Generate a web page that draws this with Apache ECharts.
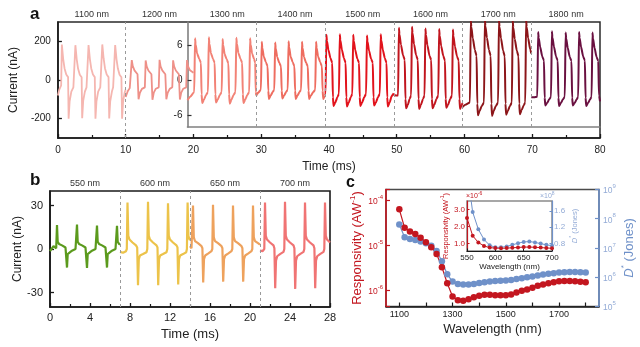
<!DOCTYPE html>
<html>
<head>
<meta charset="utf-8">
<script src="https://cdn.jsdelivr.net/npm/echarts@6.0.0/dist/echarts.min.js"></script>
<style>
  html, body { margin: 0; padding: 0; background: #fff; }
  #chart { width: 640px; height: 347px; }
</style>
</head>
<body>
<div id="chart"></div>
<script>
// ---------------- Panel a: photocurrent vs time, 1100–1800 nm ----------------
const wavelengthsA = ['1100 nm', '1200 nm', '1300 nm', '1400 nm', '1500 nm', '1600 nm', '1700 nm', '1800 nm'];
const boundsA = [0, 10, 20, 30, 40, 50, 60, 70, 80];
const colorsA = ['#f5b6b0', '#ee9088', '#f28276', '#ee6d60', '#e2131c', '#c1151e', '#8c1519', '#6a1040'];
const ticksA = [-200, 0, 200];
const ticksAInset = [-6, 0, 6];

// 1100 nm and 1200 nm traces (nA, left axis)
const s1100 = [[0,-80],[0.2,-50],[0.48,-28],[0.58,183],[0.78,108],[0.98,60],[1.23,28],[1.5,15],[1.58,-200],[1.73,-110],[1.98,-60],[2.28,-38],
  [2.48,-28],[2.58,180],[2.78,106],[2.98,58],[3.23,27],[3.5,14],[3.58,-198],[3.73,-108],[3.98,-60],[4.22,-38],
  [4.42,-28],[4.52,181],[4.72,108],[4.92,60],[5.17,28],[5.44,15],[5.54,-200],[5.69,-110],[5.94,-60],[6.25,-38],
  [6.45,-28],[6.55,184],[6.75,110],[6.95,60],[7.2,28],[7.47,15],[7.57,-199],[7.72,-110],[7.97,-60],[8.15,-38],
  [8.35,-28],[8.45,181],[8.65,107],[8.85,59],[9.1,27],[9.37,14],[9.47,-200],[9.62,-110],[9.87,-62],[10,-50]];
const s1200 = [[10,-88],[10.3,-58],[10.6,-42],[10.78,-38],[10.9,103],[11.05,72],[11.3,50],[11.75,30],[11.9,-100],[12.1,-66],[12.4,-46],[12.83,-38],
  [12.95,101],[13.1,70],[13.35,49],[13.8,30],[13.95,-102],[14.15,-65],[14.45,-45],[14.88,-38],
  [15.0,104],[15.15,71],[15.4,50],[15.85,30],[16.0,-100],[16.2,-66],[16.5,-46],[16.88,-38],
  [17.0,102],[17.15,70],[17.4,49],[17.85,30],[18.0,-101],[18.2,-65],[18.5,-45],[18.93,-38],
  [19.05,103],[19.2,72],[19.45,52],[20,38]];

// 1300–1800 nm traces (nA, inset axis)
const s1300 = [[20,-3.4],[20.4,-2.8],[20.98,-2.0],
  [21.1,7.2],[21.18,6.2],[21.4,4.6],[21.7,3.7],[21.95,3.0],[22.05,-2.4],[22.15,-3.9],[22.4,-3.3],[22.7,-2.5],[22.98,-2.0],
  [23.1,7.4],[23.18,6.3],[23.4,4.7],[23.7,3.7],[23.95,3.0],[24.05,-2.4],[24.15,-3.8],[24.4,-3.3],[24.7,-2.5],[24.98,-2.0],
  [25.1,7.1],[25.18,6.1],[25.4,4.5],[25.7,3.6],[25.95,2.9],[26.05,-2.4],[26.15,-4.0],[26.4,-3.3],[26.7,-2.5],[26.98,-2.0],
  [27.1,7.3],[27.18,6.3],[27.4,4.7],[27.7,3.7],[27.95,3.0],[28.05,-2.4],[28.15,-3.9],[28.4,-3.3],[28.7,-2.5],[28.98,-2.0],
  [29.1,7.2],[29.18,6.2],[29.4,4.6],[29.7,3.6],[29.85,3.0],[29.93,-2.0],[30,-2.6]];
const s1400 = [[30,-2.6],[30.3,-2.1],[30.68,-1.6],
  [30.8,6.6],[30.88,5.6],[31.1,4.1],[31.4,3.1],[31.65,2.4],[31.75,-1.8],[31.85,-3.2],[32.1,-2.6],[32.4,-2.0],[32.63,-1.6],
  [32.75,6.5],[32.83,5.5],[33.05,4.0],[33.35,3.0],[33.6,2.4],[33.7,-1.8],[33.8,-3.1],[34.05,-2.6],[34.35,-2.0],[34.58,-1.6],
  [34.7,6.7],[34.78,5.7],[35.0,4.1],[35.3,3.1],[35.55,2.4],[35.65,-1.8],[35.75,-3.2],[36.0,-2.6],[36.3,-2.0],[36.53,-1.6],
  [36.65,6.6],[36.73,5.6],[36.95,4.0],[37.25,3.0],[37.5,2.4],[37.6,-1.8],[37.7,-3.2],[37.95,-2.6],[38.3,-2.0],[38.58,-1.6],
  [38.7,6.6],[38.78,5.6],[39.0,4.1],[39.3,3.1],[39.55,2.4],[39.65,-1.8],[39.75,-3.2],[40,-2.6]];
const s1500 = [[40,-2.5],[40.08,-2.3],
  [40.2,7.8],[40.28,6.8],[40.5,5.2],[40.8,3.8],[41.05,3.0],[41.15,-2.9],[41.25,-4.4],[41.5,-3.8],[41.8,-2.9],[42.03,-2.3],
  [42.15,7.9],[42.23,6.9],[42.45,5.3],[42.75,3.8],[43.0,3.0],[43.1,-2.9],[43.2,-4.5],[43.45,-3.8],[43.75,-2.9],[43.98,-2.3],
  [44.1,7.8],[44.18,6.8],[44.4,5.2],[44.7,3.7],[44.95,3.0],[45.05,-2.9],[45.15,-4.4],[45.4,-3.8],[45.7,-2.9],[45.98,-2.3],
  [46.1,7.7],[46.18,6.7],[46.4,5.1],[46.7,3.7],[46.95,3.0],[47.05,-2.9],[47.15,-4.3],[47.4,-3.8],[47.7,-2.9],[47.98,-2.3],
  [48.1,7.9],[48.18,6.9],[48.4,5.3],[48.7,3.8],[48.95,3.0],[49.05,-2.9],[49.15,-4.5],[49.4,-3.8],[49.7,-2.7],[50,-2.2]];
const s1600 = [[50,-2.4],[50.3,-2.6],[50.63,-2.6],
  [50.75,9.0],[50.83,7.9],[51.05,6.1],[51.35,4.3],[51.6,3.5],[51.7,-3.2],[51.8,-4.8],[52.05,-4.2],[52.3,-3.2],[52.53,-2.6],
  [52.65,9.2],[52.73,8.1],[52.95,6.2],[53.25,4.3],[53.5,3.5],[53.6,-3.2],[53.7,-4.9],[53.95,-4.2],[54.25,-3.2],[54.48,-2.6],
  [54.6,8.9],[54.68,7.8],[54.9,6.0],[55.2,4.2],[55.45,3.5],[55.55,-3.2],[55.65,-4.8],[55.9,-4.2],[56.2,-3.2],[56.48,-2.6],
  [56.6,8.8],[56.68,7.7],[56.9,5.9],[57.2,4.2],[57.45,3.4],[57.55,-3.2],[57.65,-4.7],[57.9,-4.2],[58.2,-3.2],[58.48,-2.6],
  [58.6,8.7],[58.68,7.6],[58.9,5.8],[59.2,4.1],[59.45,3.4],[59.55,-3.2],[59.65,-4.9],[59.85,-4.3],[60,-3.9]];
const s1700 = [[60,-4.6],[60.4,-4.2],[61.08,-3.8],
  [61.2,10.4],[61.28,9.2],[61.5,7.2],[61.8,5.2],[62.05,4.2],[62.15,-4.0],[62.25,-6.0],[62.5,-5.2],[62.8,-4.4],[63.13,-3.8],
  [63.25,10.5],[63.33,9.3],[63.55,7.3],[63.85,5.2],[64.1,4.2],[64.2,-4.0],[64.3,-6.1],[64.55,-5.2],[64.85,-4.4],[65.18,-3.8],
  [65.3,10.4],[65.38,9.2],[65.6,7.2],[65.9,5.1],[66.15,4.1],[66.25,-4.0],[66.35,-5.9],[66.6,-5.2],[66.9,-4.4],[67.18,-3.8],
  [67.3,10.3],[67.38,9.1],[67.6,7.1],[67.9,5.1],[68.15,4.1],[68.25,-4.0],[68.35,-5.8],[68.6,-5.1],[68.9,-4.3],[69.13,-3.8],
  [69.25,10.4],[69.33,9.2],[69.55,7.2],[69.85,5.3],[70,4.6]];
const s1800 = [[70,-2.9],[70.4,-2.9],[70.88,-2.8],
  [71.0,8.3],[71.08,7.3],[71.3,5.7],[71.6,4.1],[71.85,3.4],[71.95,-3.0],[72.05,-4.3],[72.3,-3.9],[72.6,-3.3],[72.88,-2.8],
  [73.0,8.4],[73.08,7.4],[73.3,5.8],[73.6,4.1],[73.85,3.4],[73.95,-3.0],[74.05,-4.4],[74.3,-3.9],[74.6,-3.3],[74.88,-2.8],
  [75.0,8.2],[75.08,7.2],[75.3,5.6],[75.6,4.0],[75.85,3.3],[75.95,-3.0],[76.05,-4.3],[76.3,-3.9],[76.6,-3.3],[76.83,-2.8],
  [76.95,8.3],[77.03,7.3],[77.25,5.7],[77.55,4.1],[77.8,3.4],[77.9,-3.0],[78.0,-4.4],[78.25,-3.9],[78.55,-3.3],[78.78,-2.8],
  [78.9,8.2],[78.98,7.2],[79.2,5.6],[79.5,4.0],[79.75,3.3],[79.85,-2.6],[80,-3.6]];
const tracesA = [s1100, s1200, s1300, s1400, s1500, s1600, s1700, s1800];

// ---------------- Panel b: photocurrent vs time, 550–700 nm ----------------
const wavelengthsB = ['550 nm', '600 nm', '650 nm', '700 nm'];
const boundsB = [0, 7, 14, 21, 28];
const colorsB = ['#5b9a1d', '#ecc34a', '#eea25d', '#f07474'];
const ticksB = [-30, 0, 30];
const s550 = [[0,-1.5],[0.2,-1.0],[0.35,2.0],[0.5,1.0],[0.62,0.5],[0.7,16.5],[0.77,5],[0.9,3.5],[1.2,2.5],[1.55,1.0],[1.65,0],[1.7,-12.8],[1.77,-3.5],[1.9,-2.5],[2.2,-1.2],[2.55,0],[2.62,0.5],
  [2.7,16.8],[2.77,5],[2.9,3.5],[3.2,2.5],[3.55,1.0],[3.65,0],[3.7,-13],[3.77,-3.5],[3.9,-2.5],[4.2,-1.2],[4.55,0],[4.62,0.5],
  [4.7,16.2],[4.77,5],[4.9,3.5],[5.2,2.5],[5.55,1.0],[5.65,0],[5.7,-12.8],[5.77,-3.5],[5.9,-2.5],[6.2,-1.2],[6.55,0],[6.62,0.5],
  [6.7,16.0],[6.77,5],[6.9,3.5],[7,3]];
const s600 = [[7,-2],[7.3,-2.6],[7.6,-1.5],[7.68,0],[7.75,32],[7.83,9],[7.95,6.5],[8.25,4.5],[8.6,2.5],[8.72,1],[8.8,-25],[8.88,-7],[9.0,-4.5],[9.3,-3.5],[9.65,-2.2],[9.73,0],
  [9.8,32.5],[9.88,9],[10.0,6.5],[10.3,4.5],[10.65,2.5],[10.75,1],[10.82,-25],[10.9,-7],[11.02,-4.5],[11.3,-3.5],[11.65,-2.2],[11.73,0],
  [11.8,31.5],[11.88,9],[12.0,6.5],[12.3,4.5],[12.65,2.5],[12.75,1],[12.82,-24.5],[12.9,-7],[13.02,-4.5],[13.3,-3.5],[13.62,-2.2],[13.69,0],
  [13.76,32],[13.84,9],[13.96,6.5],[14,6]];
const s650 = [[14,2],[14.15,0.5],[14.23,1],[14.3,30],[14.38,8],[14.5,5.5],[14.8,4],[15.15,2],[15.24,0.5],[15.32,-23],[15.4,-7],[15.52,-4.5],[15.8,-3.2],[16.15,-1.5],[16.23,0],
  [16.3,30.5],[16.38,8],[16.5,5.5],[16.8,4],[17.15,2],[17.24,0.5],[17.32,-22.5],[17.4,-7],[17.52,-4.5],[17.8,-3.2],[18.15,-1.5],[18.23,0],
  [18.3,30],[18.38,8],[18.5,5.5],[18.8,4],[19.15,2],[19.24,0.5],[19.32,-22.5],[19.4,-7],[19.52,-4.5],[19.8,-3.2],[20.15,-1.5],[20.23,0],
  [20.3,30],[20.38,8],[20.5,5.5],[20.8,4],[21,3]];
const s700 = [[21,-1],[21.25,-1.5],[21.43,0],[21.5,32],[21.58,9],[21.7,6.5],[22.0,4.5],[22.35,2.5],[22.44,0.5],[22.52,-27],[22.6,-8],[22.72,-5],[23.0,-3.5],[23.35,-2],[23.43,0],
  [23.5,32.5],[23.58,9],[23.7,6.5],[24.0,4.5],[24.35,2.5],[24.44,0.5],[24.52,-27.5],[24.6,-8],[24.72,-5],[25.0,-3.5],[25.35,-2],[25.43,0],
  [25.5,32],[25.58,9],[25.7,6.5],[26.0,4.5],[26.35,2.5],[26.44,0.5],[26.52,-27],[26.6,-8],[26.72,-5],[27.0,-3.5],[27.35,-2],[27.43,0],
  [27.5,32],[27.58,9],[27.7,6.5],[28,4.5]];
const tracesB = [s550, s600, s650, s700];

// ---------------- Panel c: responsivity and detectivity spectra ----------------
const wavelengthC = [1100,1120,1140,1160,1180,1200,1220,1240,1260,1280,1300,1320,1340,1360,1380,1400,1420,1440,
  1460,1480,1500,1520,1540,1560,1580,1600,1620,1640,1660,1680,1700,1720,1740,1760,1780,1800];
const responsivityC = [6.2e-5,2.4e-5,2.0e-5,1.74e-5,1.45e-5,1.15e-5,8.9e-6,6.3e-6,3.2e-6,1.4e-6,7.1e-7,5.9e-7,5.75e-7,6.2e-7,6.8e-7,7.4e-7,7.8e-7,7.8e-7,
  7.6e-7,7.6e-7,7.6e-7,7.9e-7,8.7e-7,9.5e-7,1.02e-6,1.12e-6,1.23e-6,1.32e-6,1.41e-6,1.48e-6,1.55e-6,1.58e-6,1.58e-6,1.55e-6,1.51e-6,1.48e-6];
const detectivityC = [6.3e7,2.35e7,2.05e7,1.86e7,1.66e7,1.45e7,1.2e7,7.9e6,3.5e6,1.26e6,7.1e5,5.9e5,5.6e5,5.6e5,5.9e5,6.3e5,6.8e5,7.1e5,
  7.4e5,7.6e5,7.8e5,8.1e5,8.7e5,9.3e5,1.0e6,1.07e6,1.15e6,1.23e6,1.32e6,1.38e6,1.45e6,1.48e6,1.51e6,1.51e6,1.48e6,1.45e6];
const labelWlC = [1100, 1300, 1500, 1700];
const tickWlC = [1100, 1200, 1300, 1400, 1500, 1600, 1700, 1800];

// inset of panel c: visible range (responsivity in 1e-6 A/W, detectivity in 1e8 Jones)
const wavelengthInset = [550,560,570,580,590,600,610,620,630,640,650,660,670,680,690,700];
const responsivityInset = [2.5,1.45,1.05,0.85,0.75,0.72,0.71,0.72,0.74,0.76,0.78,0.78,0.77,0.75,0.73,0.71];
const detectivityInset = [2.6,1.57,1.15,0.9,0.76,0.71,0.71,0.73,0.77,0.81,0.84,0.85,0.83,0.8,0.77,0.75];
const ticksRespInset = [1, 2, 3];
const ticksDetInset = [0.8, 1.2, 1.6];

// ---------------- styling helpers ----------------
const FONT = "'Liberation Sans', Arial, Helvetica, sans-serif";
const INK = '#1a1a1a';
const RED = '#c3161f';
const BLUE = '#6f91c9';
const BLUE_TXT = '#93abd6';

const pair = (xs, ys) => xs.map((x, i) => [x, ys[i]]);
const centers = b => b.slice(0, -1).map((v, i) => (v + b[i + 1]) / 2);
const centersA = centers(boundsA);
const centersB = centers(boundsB);

function dashed(xs) {
  return {
    silent: true, symbol: ['none', 'none'], label: { show: false },
    lineStyle: { color: '#9a9a9a', type: [3, 3], width: 1 },
    data: xs.map(x => ({ xAxis: x }))
  };
}
function decadeLabel(v) {
  const e = Math.log10(v);
  const r = Math.round(e);
  return Math.abs(e - r) < 1e-6 ? '{b|10}{s|' + r + '}' : '';
}
const decadeRich = c => ({
  b: { fontSize: 8.5, color: c, lineHeight: 12, verticalAlign: 'bottom', fontFamily: FONT },
  s: { fontSize: 6, color: c, verticalAlign: 'top', fontFamily: FONT }
});
const noSplit = { show: false };

// ---------------- axes ----------------
const xAxes = [
  { // a: time
    gridIndex: 0, type: 'value', min: 0, max: 80, interval: 10,
    axisLine: { onZero: false, lineStyle: { color: INK, width: 1.6 } },
    axisTick: { inside: true, length: 4, lineStyle: { color: INK, width: 1.3 } },
    minorTick: { show: true, splitNumber: 2, length: 3, lineStyle: { color: INK, width: 1.2 } },
    axisLabel: { fontSize: 10, color: '#222', margin: 7 },
    splitLine: noSplit,
    name: 'Time (ms)', nameLocation: 'middle', nameGap: 23,
    nameTextStyle: { fontSize: 12, color: '#222' }
  },
  { // a: wavelength captions along the top
    gridIndex: 0, type: 'value', position: 'top', min: 0, max: 80,
    axisLine: { show: false }, axisTick: { show: false }, splitLine: noSplit,
    axisLabel: { customValues: centersA, formatter: v => wavelengthsA[centersA.indexOf(v)], fontSize: 9, color: '#333', margin: 3 }
  },
  { // a inset: frame line only
    gridIndex: 1, type: 'value', min: 20, max: 80,
    axisLine: { onZero: false, lineStyle: { color: '#808080', width: 1.6 } },
    axisTick: { show: false }, axisLabel: { show: false }, splitLine: noSplit
  },
  { // b: time
    gridIndex: 2, type: 'value', min: 0, max: 28, interval: 4,
    axisLine: { onZero: false, lineStyle: { color: INK, width: 1.6 } },
    axisTick: { inside: true, length: 4, lineStyle: { color: INK, width: 1.3 } },
    minorTick: { show: true, splitNumber: 2, length: 3, lineStyle: { color: INK, width: 1.2 } },
    axisLabel: { fontSize: 11, color: '#222', margin: 5 },
    splitLine: noSplit,
    name: 'Time (ms)', nameLocation: 'middle', nameGap: 21,
    nameTextStyle: { fontSize: 13, color: '#222' }
  },
  { // b: wavelength captions along the top
    gridIndex: 2, type: 'value', position: 'top', min: 0, max: 28,
    axisLine: { show: false }, axisTick: { show: false }, splitLine: noSplit,
    axisLabel: { customValues: centersB, formatter: v => wavelengthsB[centersB.indexOf(v)], fontSize: 9, color: '#333', margin: 3 }
  },
  { // c: wavelength
    gridIndex: 3, type: 'value', min: 1050, max: 1850,
    axisLine: { onZero: false, lineStyle: { color: INK, width: 1.5 } },
    axisTick: { inside: true, length: 4, customValues: tickWlC, lineStyle: { color: INK, width: 1.2 } },
    axisLabel: { customValues: labelWlC, formatter: v => String(v), fontSize: 9, color: '#222', margin: 4 },
    splitLine: noSplit,
    name: 'Wavelength (nm)', nameLocation: 'middle', nameGap: 16,
    nameTextStyle: { fontSize: 13, color: '#222' }
  },
  { // c inset: wavelength
    gridIndex: 4, type: 'value', min: 550, max: 700, interval: 50,
    axisLine: { onZero: false, lineStyle: { color: INK, width: 1 } },
    axisTick: { inside: true, length: 2.5, lineStyle: { color: INK } },
    axisLabel: { fontSize: 8, color: '#222', margin: 3 },
    splitLine: noSplit,
    name: 'Wavelength (nm)', nameLocation: 'middle', nameGap: 11,
    nameTextStyle: { fontSize: 8, color: '#222' }
  }
];

const yAxes = [
  { // a: current, large scale
    gridIndex: 0, type: 'value', min: -300, max: 300,
    axisLine: { show: true, onZero: false, lineStyle: { color: INK, width: 1.6 } },
    axisTick: { show: true, inside: true, length: 4, customValues: ticksA, lineStyle: { color: INK, width: 1.3 } },
    axisLabel: { customValues: ticksA, fontSize: 10, color: '#222', margin: 7 },
    splitLine: noSplit,
    name: 'Current (nA)', nameLocation: 'middle', nameRotate: 90, nameGap: 29,
    nameTextStyle: { fontSize: 12, color: '#222' }
  },
  { // a inset: current, small scale
    gridIndex: 1, type: 'value', min: -8, max: 10,
    axisLine: { show: true, onZero: false, lineStyle: { color: '#808080', width: 1.6 } },
    axisTick: { show: true, inside: true, length: 4, customValues: ticksAInset, lineStyle: { color: '#333', width: 1.2 } },
    axisLabel: { customValues: ticksAInset, fontSize: 10, color: '#222', margin: 5 },
    splitLine: noSplit
  },
  { // b: current
    gridIndex: 2, type: 'value', min: -40, max: 40,
    axisLine: { show: true, onZero: false, lineStyle: { color: INK, width: 1.6 } },
    axisTick: { show: true, inside: true, length: 4, customValues: ticksB, lineStyle: { color: INK, width: 1.3 } },
    axisLabel: { customValues: ticksB, fontSize: 11, color: '#222', margin: 7 },
    splitLine: noSplit,
    name: 'Current (nA)', nameLocation: 'middle', nameRotate: 90, nameGap: 23,
    nameTextStyle: { fontSize: 12, color: '#222' }
  },
  { // c: responsivity (log)
    gridIndex: 3, type: 'log', logBase: 10, min: 4.26e-7, max: 1.71e-4, position: 'left',
    axisLine: { show: true, onZero: false, lineStyle: { color: RED, width: 1.6 } },
    axisTick: { show: true, inside: true, length: 4, lineStyle: { color: RED, width: 1.2 } },
    axisLabel: { formatter: decadeLabel, margin: 3, rich: decadeRich(RED) },
    splitLine: noSplit,
    name: '{r|Responsivity (AW}{s|-1}{r|)}', nameLocation: 'middle', nameRotate: 90, nameGap: 13,
    nameTextStyle: { rich: {
      r: { fontSize: 13, color: RED, lineHeight: 16, verticalAlign: 'bottom', fontFamily: FONT },
      s: { fontSize: 8, color: RED, verticalAlign: 'top', fontFamily: FONT } } }
  },
  { // c: detectivity (log)
    gridIndex: 3, type: 'log', logBase: 10, min: 1e5, max: 1e9, position: 'right',
    axisLine: { show: true, onZero: false, lineStyle: { color: BLUE, width: 1.6 } },
    axisTick: { show: true, inside: true, length: 4, lineStyle: { color: BLUE, width: 1.2 } },
    axisLabel: { formatter: decadeLabel, margin: 4, rich: decadeRich(BLUE_TXT) },
    splitLine: noSplit,
    name: '{i|D}{s|*}{r| (Jones)}', nameLocation: 'middle', nameRotate: 90, nameGap: 20,
    nameTextStyle: { rich: {
      i: { fontSize: 13, color: BLUE, fontStyle: 'italic', lineHeight: 16, verticalAlign: 'bottom', fontFamily: FONT },
      r: { fontSize: 13, color: BLUE, lineHeight: 16, verticalAlign: 'bottom', fontFamily: FONT },
      s: { fontSize: 8, color: BLUE, verticalAlign: 'top', fontFamily: FONT } } }
  },
  { // c inset: responsivity (x1e-6)
    gridIndex: 4, type: 'value', min: 0.55, max: 3.5, position: 'left',
    axisLine: { show: true, onZero: false, lineStyle: { color: RED, width: 1.2 } },
    axisTick: { show: true, inside: true, length: 2.5, customValues: ticksRespInset, lineStyle: { color: RED } },
    axisLabel: { customValues: ticksRespInset, formatter: v => v.toFixed(1), fontSize: 8, color: RED, margin: 2 },
    splitLine: noSplit,
    name: '{r|Responsivity (AW}{s|-1}{r|)}', nameLocation: 'middle', nameRotate: 90, nameGap: 14,
    nameTextStyle: { rich: {
      r: { fontSize: 7.5, color: RED, lineHeight: 10, verticalAlign: 'bottom', fontFamily: FONT },
      s: { fontSize: 5, color: RED, verticalAlign: 'top', fontFamily: FONT } } }
  },
  { // c inset: detectivity (x1e8)
    gridIndex: 4, type: 'value', min: 0.62, max: 1.84, position: 'right',
    axisLine: { show: true, onZero: false, lineStyle: { color: BLUE, width: 1.2 } },
    axisTick: { show: true, inside: true, length: 2.5, customValues: ticksDetInset, lineStyle: { color: BLUE } },
    axisLabel: { customValues: ticksDetInset, formatter: v => v.toFixed(1), fontSize: 8, color: BLUE_TXT, margin: 2 },
    splitLine: noSplit,
    name: '{i|D}{s|*}{r| (Jones)}', nameLocation: 'middle', nameRotate: 90, nameGap: 10,
    nameTextStyle: { rich: {
      i: { fontSize: 7.5, color: BLUE_TXT, fontStyle: 'italic', lineHeight: 10, verticalAlign: 'bottom', fontFamily: FONT },
      r: { fontSize: 7.5, color: BLUE_TXT, lineHeight: 10, verticalAlign: 'bottom', fontFamily: FONT },
      s: { fontSize: 5, color: BLUE_TXT, verticalAlign: 'top', fontFamily: FONT } } }
  }
];

// ---------------- series ----------------
const series = [];
tracesA.forEach((trace, i) => {
  const onInset = i >= 2;
  const s = {
    type: 'line', name: wavelengthsA[i], data: trace, showSymbol: false,
    xAxisIndex: onInset ? 2 : 0, yAxisIndex: onInset ? 1 : 0,
    smooth: onInset ? 0.2 : false, smoothMonotone: 'x',
    lineStyle: { color: colorsA[i], width: onInset ? 2 : 1.8 }, itemStyle: { color: colorsA[i] }
  };
  if (i === 0) s.markLine = dashed([boundsA[1]]);
  if (i === 2) s.markLine = dashed(boundsA.slice(3, -1));
  series.push(s);
});
tracesB.forEach((trace, i) => {
  const s = {
    type: 'line', name: wavelengthsB[i], data: trace, showSymbol: false,
    xAxisIndex: 3, yAxisIndex: 2,
    lineStyle: { color: colorsB[i], width: 2.2 }, itemStyle: { color: colorsB[i] }
  };
  if (i === 0) s.markLine = dashed(boundsB.slice(1, -1));
  series.push(s);
});
series.push({
  type: 'line', name: 'D*', data: pair(wavelengthC, detectivityC), xAxisIndex: 5, yAxisIndex: 4,
  symbol: 'circle', symbolSize: 6.5, lineStyle: { color: BLUE, width: 1.2 }, itemStyle: { color: BLUE }
});
series.push({
  type: 'line', name: 'Responsivity', data: pair(wavelengthC, responsivityC), xAxisIndex: 5, yAxisIndex: 3,
  symbol: 'circle', symbolSize: 6.5, lineStyle: { color: RED, width: 1.2 }, itemStyle: { color: RED }
});
series.push({
  type: 'line', name: 'D* visible', data: pair(wavelengthInset, detectivityInset), xAxisIndex: 6, yAxisIndex: 6,
  symbol: 'circle', symbolSize: 4, lineStyle: { color: BLUE, width: 1 }, itemStyle: { color: BLUE }
});
series.push({
  type: 'line', name: 'Responsivity visible', data: pair(wavelengthInset, responsivityInset), xAxisIndex: 6, yAxisIndex: 5,
  symbol: 'circle', symbolSize: 4, lineStyle: { color: RED, width: 1 }, itemStyle: { color: RED }
});

// ---------------- chart ----------------
const chart = echarts.init(document.getElementById('chart'), null, { renderer: 'canvas' });
chart.setOption({
  animation: false,
  backgroundColor: '#fff',
  textStyle: { fontFamily: FONT },
  grid: [
    { left: 50, top: 22, width: 550, height: 116, show: true, borderColor: '#2a2a2a', borderWidth: 1.5 },
    { left: 187.5, top: 22, width: 412.5, height: 105 },
    { left: 50, top: 191, width: 280, height: 116, show: true, borderColor: '#1a1a1a', borderWidth: 1.6 },
    { left: 386, top: 189.5, width: 213, height: 117, show: true, borderColor: '#4a4a4a', borderWidth: 1.5 },
    { left: 467, top: 201, width: 85, height: 50, show: true, borderColor: '#8a8a8a', borderWidth: 1.5, backgroundColor: '#fff' }
  ],
  xAxis: xAxes,
  yAxis: yAxes,
  series: series,
  graphic: [
    { type: 'text', left: 30, top: 6, style: { text: 'a', font: 'bold 17px ' + FONT, fill: '#111' } },
    { type: 'text', left: 30, top: 172, style: { text: 'b', font: 'bold 17px ' + FONT, fill: '#111' } },
    { type: 'text', left: 346, top: 175, style: { text: 'c', font: 'bold 16px ' + FONT, fill: '#111' } },
    { type: 'text', left: 466, top: 191, style: { text: '{b|×10}{s|-6}', rich: {
        b: { fontSize: 7, fill: RED, lineHeight: 9, verticalAlign: 'bottom', fontFamily: FONT },
        s: { fontSize: 5, fill: RED, verticalAlign: 'top', fontFamily: FONT } } } },
    { type: 'text', left: 540, top: 191, style: { text: '{b|×10}{s|8}', rich: {
        b: { fontSize: 7, fill: BLUE_TXT, lineHeight: 9, verticalAlign: 'bottom', fontFamily: FONT },
        s: { fontSize: 5, fill: BLUE_TXT, verticalAlign: 'top', fontFamily: FONT } } } }
  ]
});
</script>
</body>
</html>
